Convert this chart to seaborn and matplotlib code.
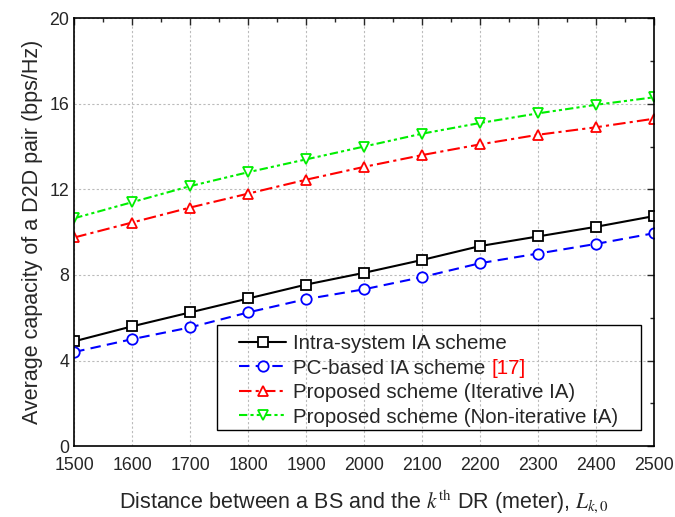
import matplotlib
matplotlib.use("Agg")
import matplotlib.pyplot as plt
from matplotlib.patches import Rectangle
import seaborn as sns
import numpy as np
import pandas as pd

distance = [1500, 1600, 1700, 1800, 1900, 2000, 2100, 2200, 2300, 2400, 2500]
intra_system = [4.9, 5.6, 6.25, 6.9, 7.55, 8.1, 8.7, 9.35, 9.8, 10.25, 10.75]
pc_based = [4.4, 5.0, 5.55, 6.25, 6.87, 7.33, 7.9, 8.55, 9.0, 9.45, 9.95]
iterative = [9.75, 10.45, 11.15, 11.8, 12.45, 13.05, 13.6, 14.1, 14.55, 14.9, 15.3]
non_iterative = [10.65, 11.4, 12.15, 12.8, 13.4, 14.0, 14.6, 15.1, 15.55, 15.95, 16.3]

labels = ["Intra-system IA scheme", "PC-based IA scheme ",
          "Proposed scheme (Iterative IA)", "Proposed scheme (Non-iterative IA)"]
x_ticks = [1500, 1600, 1700, 1800, 1900, 2000, 2100, 2200, 2300, 2400, 2500]
y_ticks = [0, 4, 8, 12, 16, 20]

sns.set_style("white")
plt.rcParams['font.family'] = ['Liberation Sans', 'DejaVu Sans']
plt.rcParams['mathtext.fontset'] = 'stix'

fig = plt.figure(figsize=(6.75, 5.17), dpi=100)
ax = fig.add_axes([0.110, 0.137, 0.859, 0.828])

series = [intra_system, pc_based, iterative, non_iterative]
colors = ['black', 'blue', 'red', '#00ee00']
markers = ['s', 'o', '^', 'v']
msizes = [6.5, 7.5, 7.5, 7.5]
dashes = [(None, None), (5, 3), (6, 2, 1.5, 2), (4, 1.5, 1.5, 1.5, 1.5, 1.5)]

for vals, lab, c, m, ms, d in zip(series, labels, colors, markers, msizes, dashes):
    df = pd.DataFrame({'x': distance, 'y': vals})
    sns.lineplot(data=df, x='x', y='y', ax=ax, color=c, marker=m,
                 markersize=ms, markerfacecolor='white', markeredgecolor=c,
                 markeredgewidth=1.3, linewidth=1.5, label=lab)
    l = ax.get_lines()[-1]
    if d[0] is not None:
        l.set_dashes(d)

ax.set_xlim(1500, 2500)
ax.set_ylim(0, 20)
ax.set_xticks(x_ticks)
ax.set_yticks(y_ticks)
ax.set_xticks(np.arange(1550, 2500, 100), minor=True)
ax.set_yticks([2, 6, 10, 14, 18], minor=True)
ax.tick_params(axis='both', which='both', direction='in', top=True, right=True, labelsize=12.8)
ax.tick_params(which='major', length=5, width=1)
ax.tick_params(which='minor', length=3, width=1)
ax.tick_params(axis='x', pad=8)
ax.grid(True, which='major', linestyle=(0, (2, 2)), color='#bbbbbb', linewidth=0.8)
for s in ax.spines.values():
    s.set_color('black')
    s.set_linewidth(1.2)

ax.set_xlabel(r"Distance between a BS and the $k^{\mathrm{th}}$ DR (meter), $L_{k,0}$", fontsize=15.5, labelpad=10)
ax.set_ylabel("Average capacity of a D2D pair (bps/Hz)", fontsize=15.5, labelpad=5)

leg = ax.legend(loc='upper left', bbox_to_anchor=(239 / 675, 1 - 334 / 517),
                bbox_transform=fig.transFigure, fontsize=14.8, frameon=False,
                handlelength=2.3, handletextpad=0.35, borderpad=0, borderaxespad=0,
                labelspacing=0.27)

# legend frame drawn as a box
fig.patches.append(Rectangle((217 / 675, 1 - 430 / 517), (641 - 217) / 675, (430 - 325) / 517,
                             transform=fig.transFigure, fill=False, edgecolor='black',
                             linewidth=1.0, zorder=5))

fig.canvas.draw()
renderer = fig.canvas.get_renderer()
t = leg.get_texts()[1]
bb = t.get_window_extent(renderer)
inv = fig.transFigure.inverted()
xf, yf = inv.transform((bb.x1, bb.y0 + bb.height * 0.5))
fig.text(xf, yf, "[17]", color='red', fontsize=14.8, va='center', ha='left',
         transform=fig.transFigure)

fig.savefig("out.png", dpi=100)
